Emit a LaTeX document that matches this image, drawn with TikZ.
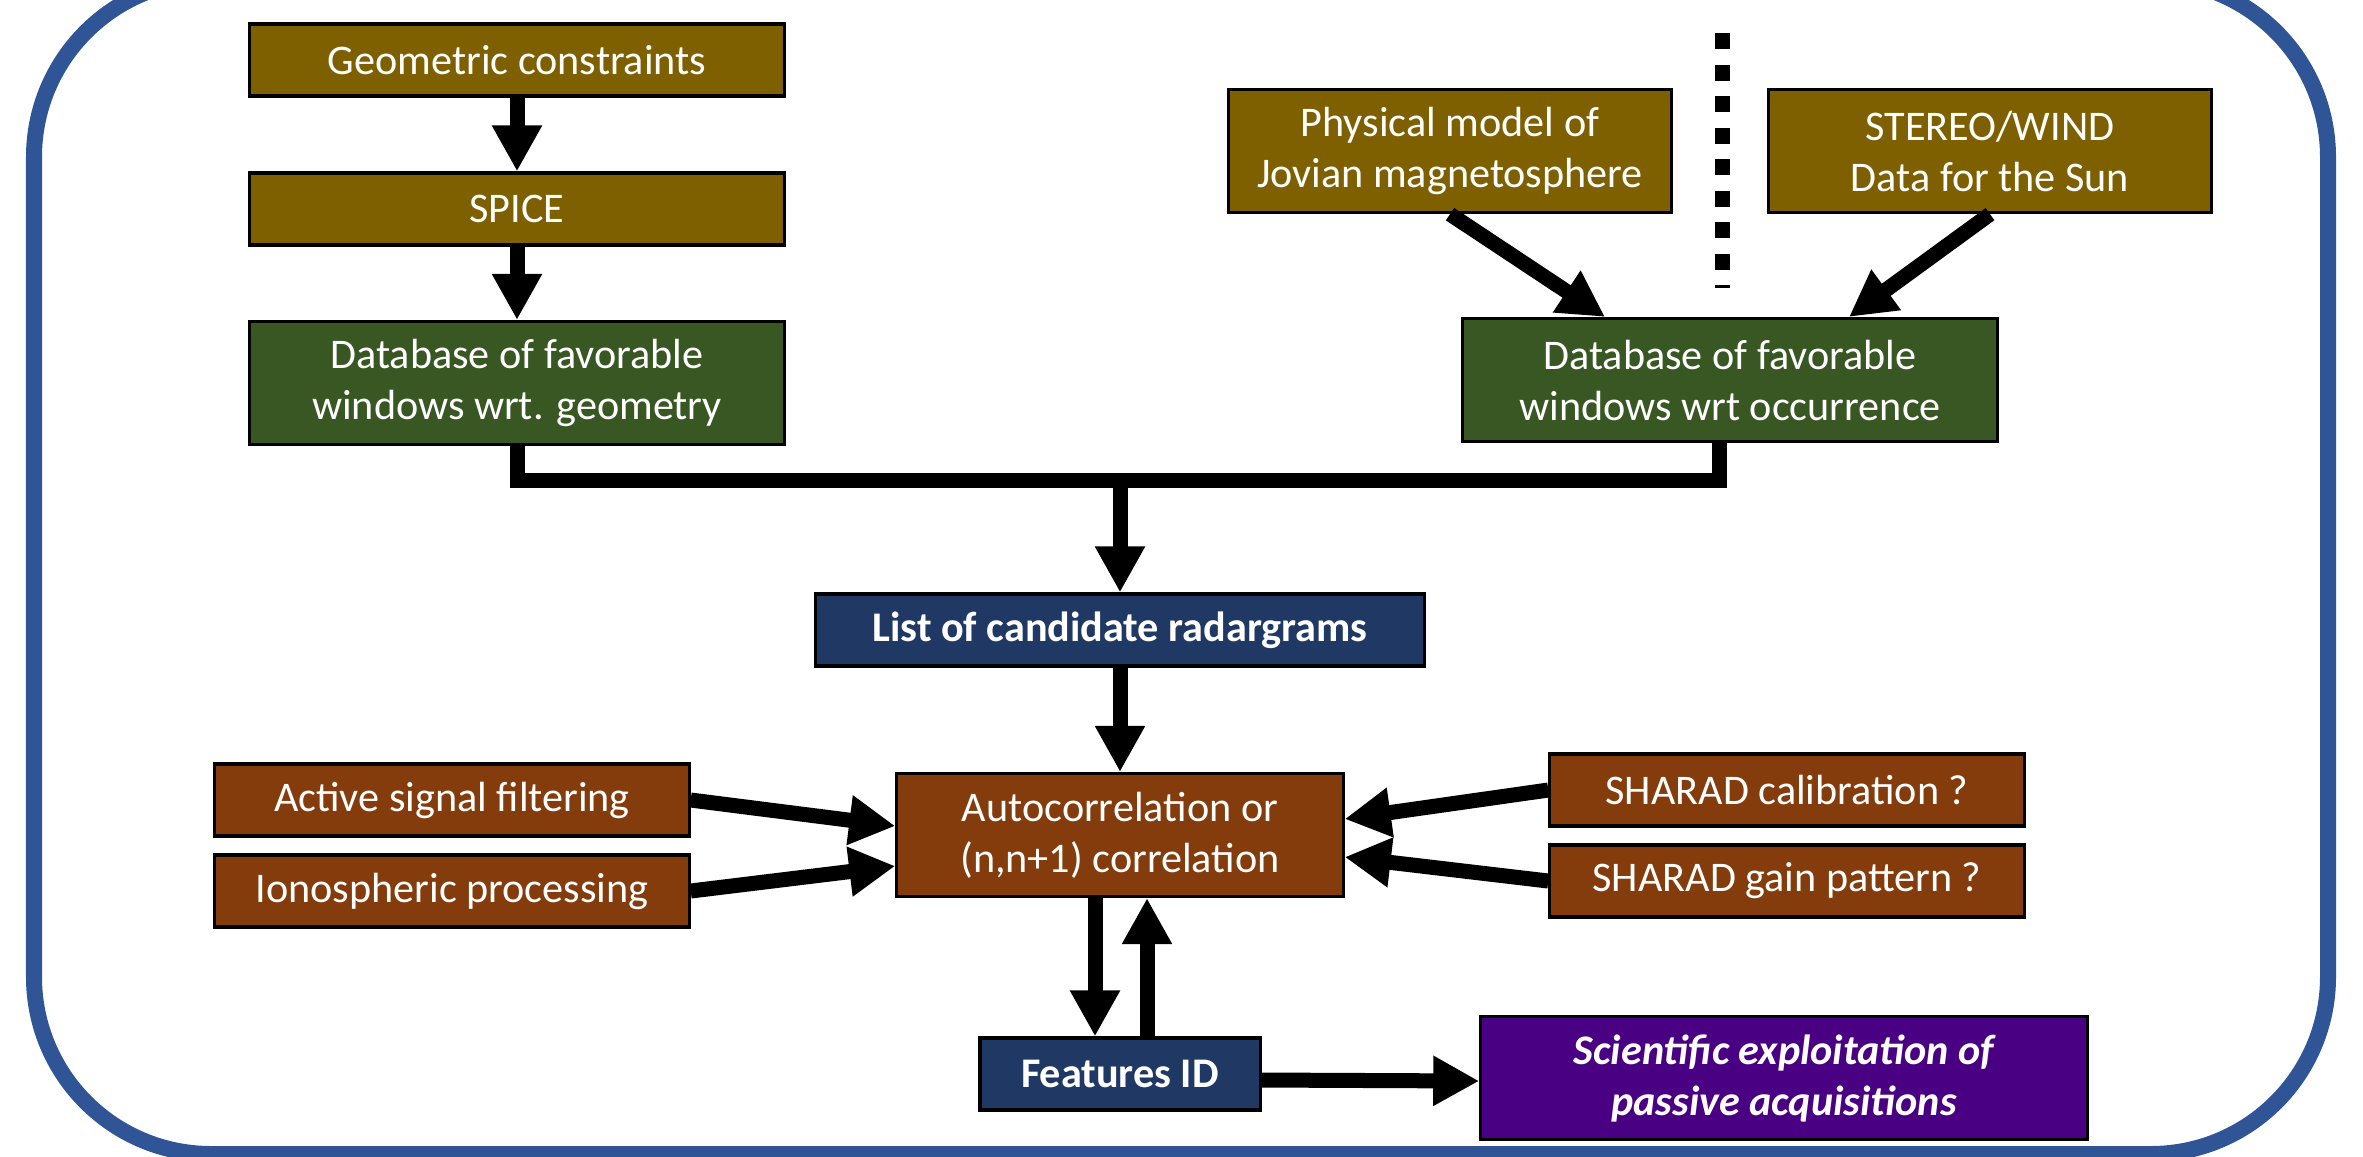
\documentclass[tikz,border=0pt]{standalone}
\usepackage{fontspec}
\setmainfont{Carlito}
\usetikzlibrary{arrows.meta, calc}
\definecolor{gold}{HTML}{7F6000}
\definecolor{leaf}{HTML}{385723}
\definecolor{navy}{HTML}{203864}
\definecolor{rust}{HTML}{843C0C}
\definecolor{sciviolet}{HTML}{4A0082}
\definecolor{frameblue}{HTML}{2F5597}
\tikzset{>={Triangle[length=0.46cm, width=0.47cm]}}
\tikzset{
    flowbox/.style={draw=black, line width=0.9pt, text=white, align=center, inner sep=0pt,
        font=\fontsize{12}{14.5}\selectfont},
    onerow/.style={flowbox, minimum height=0.72cm},
    tworow/.style={flowbox, minimum height=1.23cm},
    flow/.style={->, line width=0.15cm}
}

\begin{document}
\begin{tikzpicture}[x=0.01cm, y=-0.01cm]
    \useasboundingbox (0,0) rectangle (2363,1156);
    \draw[frameblue, line width=0.16cm, rounded corners=1.77cm] (34,-20) rectangle (2328,1154);

    \node[onerow, fill=gold, minimum width=5.35cm] (geo) at (517,60) {Geometric constraints};
    \node[onerow, fill=gold, minimum width=5.35cm] (spice) at (517,209) {SPICE};
    \node[tworow, fill=leaf, minimum width=5.35cm] (dbgeo) at (517,383) {Database of favorable\\windows wrt. geometry};
    \node[tworow, fill=gold, minimum width=4.43cm] (phys) at (1450,151) {Physical model of\\Jovian magnetosphere};
    \node[tworow, fill=gold, minimum width=4.43cm] (wind) at (1990,151) {STEREO/WIND\\Data for the Sun};
    \node[tworow, fill=leaf, minimum width=5.35cm] (dbocc) at (1730,380) {Database of favorable\\windows wrt occurrence};
    \node[onerow, fill=navy, minimum width=6.08cm, font=\fontsize{12}{14.5}\selectfont\bfseries] (list) at (1120,630) {List of candidate radargrams};
    \node[tworow, fill=rust, minimum width=4.46cm] (corr) at (1120,835) {Autocorrelation or\\(n,n+1) correlation};
    \node[onerow, fill=rust, minimum width=4.74cm] (filt) at (452,800) {Active signal filtering};
    \node[onerow, fill=rust, minimum width=4.74cm] (iono) at (452,891) {Ionospheric processing};
    \node[onerow, fill=rust, minimum width=4.74cm] (calib) at (1787,790) {SHARAD calibration ?};
    \node[onerow, fill=rust, minimum width=4.74cm] (gain) at (1787,881) {SHARAD gain pattern ?};
    \node[onerow, fill=navy, minimum width=2.80cm, font=\fontsize{12}{14.5}\selectfont\bfseries] (feat) at (1120,1074) {Features ID};
    \node[tworow, fill=sciviolet, minimum width=6.06cm, font=\fontsize{12}{14.5}\selectfont\bfseries\itshape] (sci) at (1784,1078) {Scientific exploitation of\\passive acquisitions};
    \coordinate (merge) at (1120,480);

    \draw[line width=0.15cm, dash pattern=on 0.16cm off 0.155cm] (1722,33) -- (1722,288);

    \draw[flow] (geo.south) -- (spice.north);
    \draw[flow] (spice.south) -- (dbgeo.north);
    \draw[flow] (phys.south) -- ($(dbocc.north)+(-125,0)$);
    \draw[flow] (wind.south) -- ($(dbocc.north)+(119,0)$);
    \draw[line width=0.15cm] (dbgeo.south) |- (merge) -| ($(dbocc.south)+(-11,0)$);
    \draw[flow] (merge) -- (list.north);
    \draw[flow] (list.south) -- (corr.north);
    \draw[flow] (filt.east) -- ($(corr.west)+(0,-9)$);
    \draw[flow] (iono.east) -- ($(corr.west)+(0,31)$);
    \draw[flow] (calib.west) -- ($(corr.east)+(0,-16)$);
    \draw[flow] (gain.west) -- ($(corr.east)+(0,22)$);
    \draw[flow] ($(corr.south)+(-25,0)$) -- ($(feat.north)+(-25,0)$);
    \draw[flow] ($(feat.north)+(27,0)$) -- ($(corr.south)+(27,0)$);
    \draw[flow] ($(feat.east)+(0,6)$) -- ($(sci.west)+(0,3)$);
\end{tikzpicture}
\end{document}
